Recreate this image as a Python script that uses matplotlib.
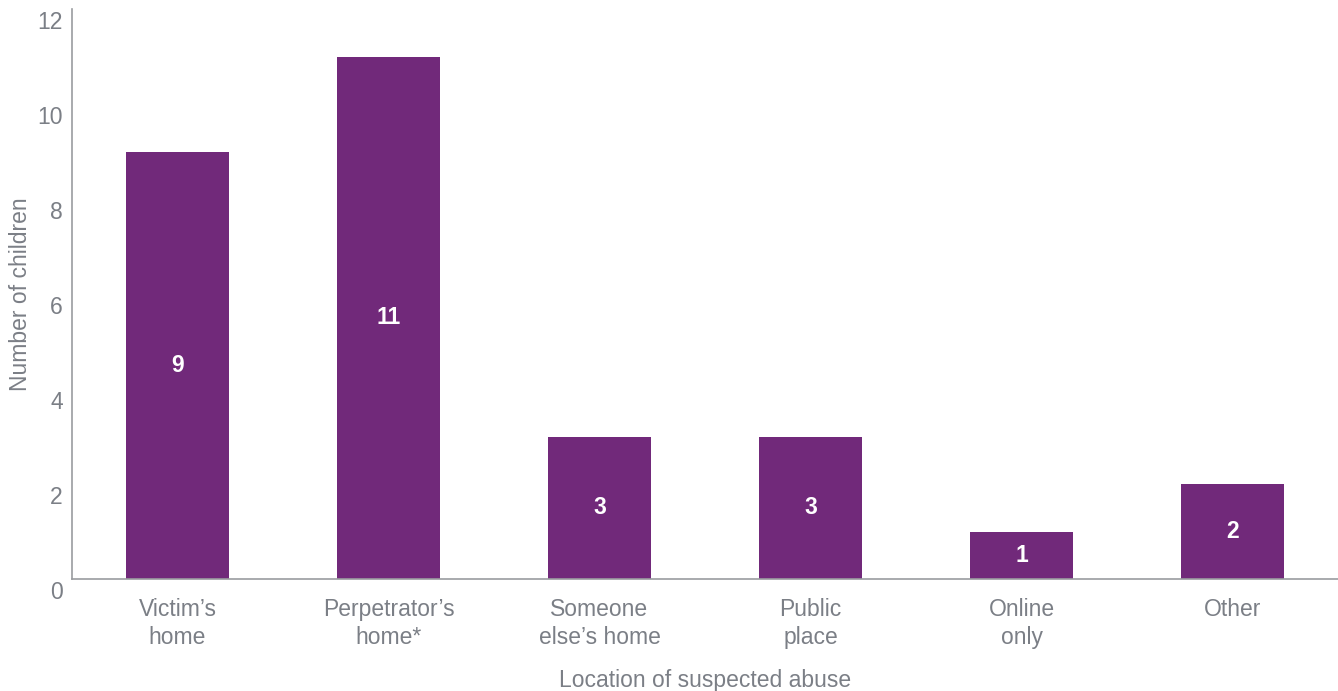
import matplotlib

matplotlib.use("Agg")
import matplotlib.pyplot as plt
from matplotlib.transforms import ScaledTranslation

# data
locations = ["Victim’s\nhome", "Perpetrator’s\nhome*", "Someone\nelse’s home",
             "Public\nplace", "Online\nonly", "Other"]
children = [9, 11, 3, 3, 1, 2]
y_ticks = [0, 2, 4, 6, 8, 10, 12]

BAR_COLOR = "#71297a"
TEXT_COLOR = "#7b7f86"
SPINE_COLOR = "#9a9ca0"

plt.rcParams["font.family"] = ["Liberation Sans", "DejaVu Sans"]

W, H, DPI = 1338, 691, 100
fig = plt.figure(figsize=(W / DPI, H / DPI), dpi=DPI)
ax = fig.add_axes([72 / W, (H - 579) / H, (W - 72) / W, (579 - 9) / H])

x = range(len(locations))
bars = ax.bar(x, children, width=0.49, color=BAR_COLOR)

# value labels in the middle of each bar
for rect, v in zip(bars, children):
    ax.text(rect.get_x() + rect.get_width() / 2, v / 2, str(v),
            ha="center", va="center", color="white", fontsize=16.5, fontweight="bold")

ax.set_xlim(-0.5, len(locations) - 0.5)
ax.set_ylim(0, 12)
ax.set_yticks(y_ticks)
ax.set_xticks(list(x))
ax.set_xticklabels(locations, linespacing=1.28)

ax.tick_params(axis="both", length=0, labelsize=16.5, labelcolor=TEXT_COLOR)
ax.tick_params(axis="x", pad=14)
ax.tick_params(axis="y", pad=6.5)

# y tick labels sit a little below their tick positions in the original
for lab in ax.get_yticklabels():
    lab.set_transform(lab.get_transform() + ScaledTranslation(0, -11 / DPI, fig.dpi_scale_trans))

for side in ("top", "right"):
    ax.spines[side].set_visible(False)
for side in ("left", "bottom"):
    ax.spines[side].set_color(SPINE_COLOR)
    ax.spines[side].set_linewidth(1.2)

ax.set_xlabel("Location of suspected abuse", fontsize=16.5, color=TEXT_COLOR, labelpad=14)
ax.set_ylabel("Number of children", fontsize=16.5, color=TEXT_COLOR, labelpad=4)

fig.savefig("out.png", dpi=DPI)
